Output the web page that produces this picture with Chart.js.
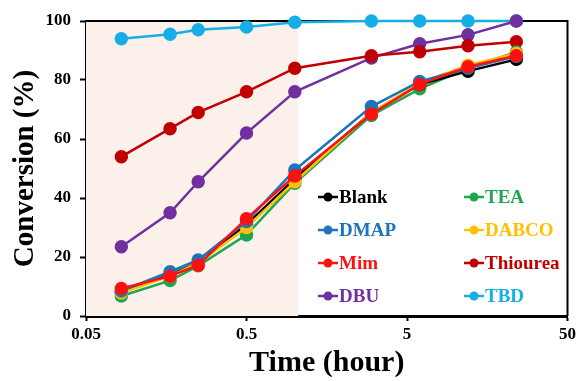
<!DOCTYPE html>
<html>
<head>
<meta charset="utf-8">
<script src="https://cdn.jsdelivr.net/npm/chart.js@4.4.1/dist/chart.umd.min.js"></script>
<style>
  html, body { margin: 0; padding: 0; background: #fff; }
  #wrap { position: relative; width: 579px; height: 381px; }
</style>
</head>
<body>
<div id="wrap"><canvas id="chart" width="579" height="381"></canvas></div>
<script>
// time points (hour)
const times = [0.083, 0.167, 0.25, 0.5, 1, 3, 6, 12, 24];
const xTicks = [0.05, 0.5, 5, 50];
const shadeEnd = 1.05;

// conversion (%)
const blank    = [8.0, 14.0, 18.0, 31.0, 46.5, 69.0, 78.5, 83.0, 87.0];
const tea      = [6.8, 12.0, 17.0, 27.5, 45.0, 68.0, 77.0, 84.0, 89.5];
const dmap     = [8.5, 15.0, 19.0, 32.0, 49.5, 71.0, 79.5, 84.0, 88.0];
const dabco    = [7.8, 13.5, 18.0, 30.0, 45.5, 69.0, 79.0, 85.0, 89.0];
const mim      = [9.3, 13.5, 17.2, 33.0, 47.5, 68.5, 78.5, 84.5, 88.2];
const thiourea = [54.0, 63.5, 69.0, 76.0, 84.0, 88.2, 89.6, 91.6, 93.0];
const dbu      = [23.5, 35.0, 45.5, 62.0, 76.0, 87.5, 92.3, 95.3, 100.0];
const tbd      = [94.0, 95.5, 97.0, 98.0, 99.6, 100.0, 100.0, 100.0, 100.0];

const series = [
  { label: 'Blank', data: blank, color: '#000000' },
  { label: 'TEA', data: tea, color: '#1fa553' },
  { label: 'DMAP', data: dmap, color: '#1c75bc' },
  { label: 'DABCO', data: dabco, color: '#ffc000' },
  { label: 'Mim', data: mim, color: '#ff1010' },
  { label: 'Thiourea', data: thiourea, color: '#c00000' },
  { label: 'DBU', data: dbu, color: '#7030a0' },
  { label: 'TBD', data: tbd, color: '#15aee6' }
];
// stacking: red on top, then blue, etc.
const drawOrder = { 'Mim': 0, 'DMAP': 1, 'DABCO': 2, 'Blank': 3, 'TEA': 4, 'Thiourea': 5, 'DBU': 6, 'TBD': 7 };

const FONT = '"Liberation Serif", "Times New Roman", serif';

const shadePlugin = {
  id: 'shade',
  beforeDatasetsDraw(chart) {
    const { ctx, chartArea, scales } = chart;
    const x1 = scales.x.getPixelForValue(shadeEnd);
    ctx.save();
    ctx.fillStyle = '#fbf1ea';
    ctx.fillRect(chartArea.left, chartArea.top, x1 - chartArea.left, chartArea.bottom - chartArea.top);
    // top / right frame
    ctx.strokeStyle = '#000';
    ctx.lineWidth = 2;
    ctx.beginPath();
    ctx.moveTo(chartArea.left, chartArea.top);
    ctx.lineTo(chartArea.right, chartArea.top);
    ctx.lineTo(chartArea.right, chartArea.bottom);
    ctx.stroke();
    ctx.restore();
  }
};

const legendPlugin = {
  id: 'boxLegend',
  afterDraw(chart) {
    const { ctx } = chart;
    const cols = [318, 464];
    const rows = [197, 230, 263, 296];
    ctx.save();
    ctx.font = 'bold 19px ' + FONT;
    ctx.textBaseline = 'middle';
    series.forEach((s, i) => {
      const x = cols[i % 2];
      const y = rows[Math.floor(i / 2)];
      ctx.strokeStyle = s.color;
      ctx.lineWidth = 2.5;
      ctx.beginPath();
      ctx.moveTo(x, y);
      ctx.lineTo(x + 20, y);
      ctx.stroke();
      ctx.fillStyle = s.color;
      ctx.beginPath();
      ctx.arc(x + 10, y, 4.5, 0, Math.PI * 2);
      ctx.fill();
      ctx.fillText(s.label, x + 21, y + 1);
    });
    ctx.restore();
  }
};

new Chart(document.getElementById('chart'), {
  type: 'line',
  data: {
    datasets: series.map(s => ({
      label: s.label,
      data: times.map((t, i) => ({ x: t, y: s.data[i] })),
      borderColor: s.color,
      backgroundColor: s.color,
      pointBackgroundColor: s.color,
      pointBorderColor: s.color,
      pointRadius: 5.5,
      borderWidth: 2.5,
      tension: 0,
      clip: false,
      order: drawOrder[s.label]
    }))
  },
  options: {
    responsive: false,
    animation: false,
    layout: { padding: { top: 21, right: 11, left: 0, bottom: 0 } },
    plugins: { legend: { display: false }, tooltip: { enabled: false } },
    scales: {
      x: {
        type: 'logarithmic',
        min: 0.05,
        max: 50,
        afterBuildTicks(scale) { scale.ticks = xTicks.map(v => ({ value: v })); },
        afterFit(scale) { scale.height = 65; },
        ticks: {
          color: '#000',
          font: { family: FONT, size: 17, weight: 'bold' },
          padding: 3,
          maxRotation: 0,
          autoSkip: false,
          callback: v => String(v)
        },
        grid: { display: true, drawOnChartArea: false, drawTicks: true, tickLength: 5, color: '#000', tickWidth: 2 },
        border: { display: true, color: '#000', width: 3 },
        title: {
          display: true,
          text: 'Time (hour)',
          color: '#000',
          font: { family: FONT, size: 30, weight: 'bold' },
          padding: { top: 0, bottom: 0 }
        }
      },
      y: {
        min: 0,
        max: 100,
        afterFit(scale) { scale.width = 86; },
        ticks: {
          stepSize: 20,
          color: '#000',
          font: { family: FONT, size: 17, weight: 'bold' },
          padding: 9
        },
        grid: { display: true, drawOnChartArea: false, drawTicks: true, tickLength: 6, color: '#000', tickWidth: 2 },
        border: { display: true, color: '#000', width: 3 },
        title: {
          display: true,
          text: 'Conversion (%)',
          color: '#000',
          font: { family: FONT, size: 29, weight: 'bold' },
          padding: { top: 8, bottom: 0 }
        }
      }
    }
  },
  plugins: [shadePlugin, legendPlugin]
});
</script>
</body>
</html>
